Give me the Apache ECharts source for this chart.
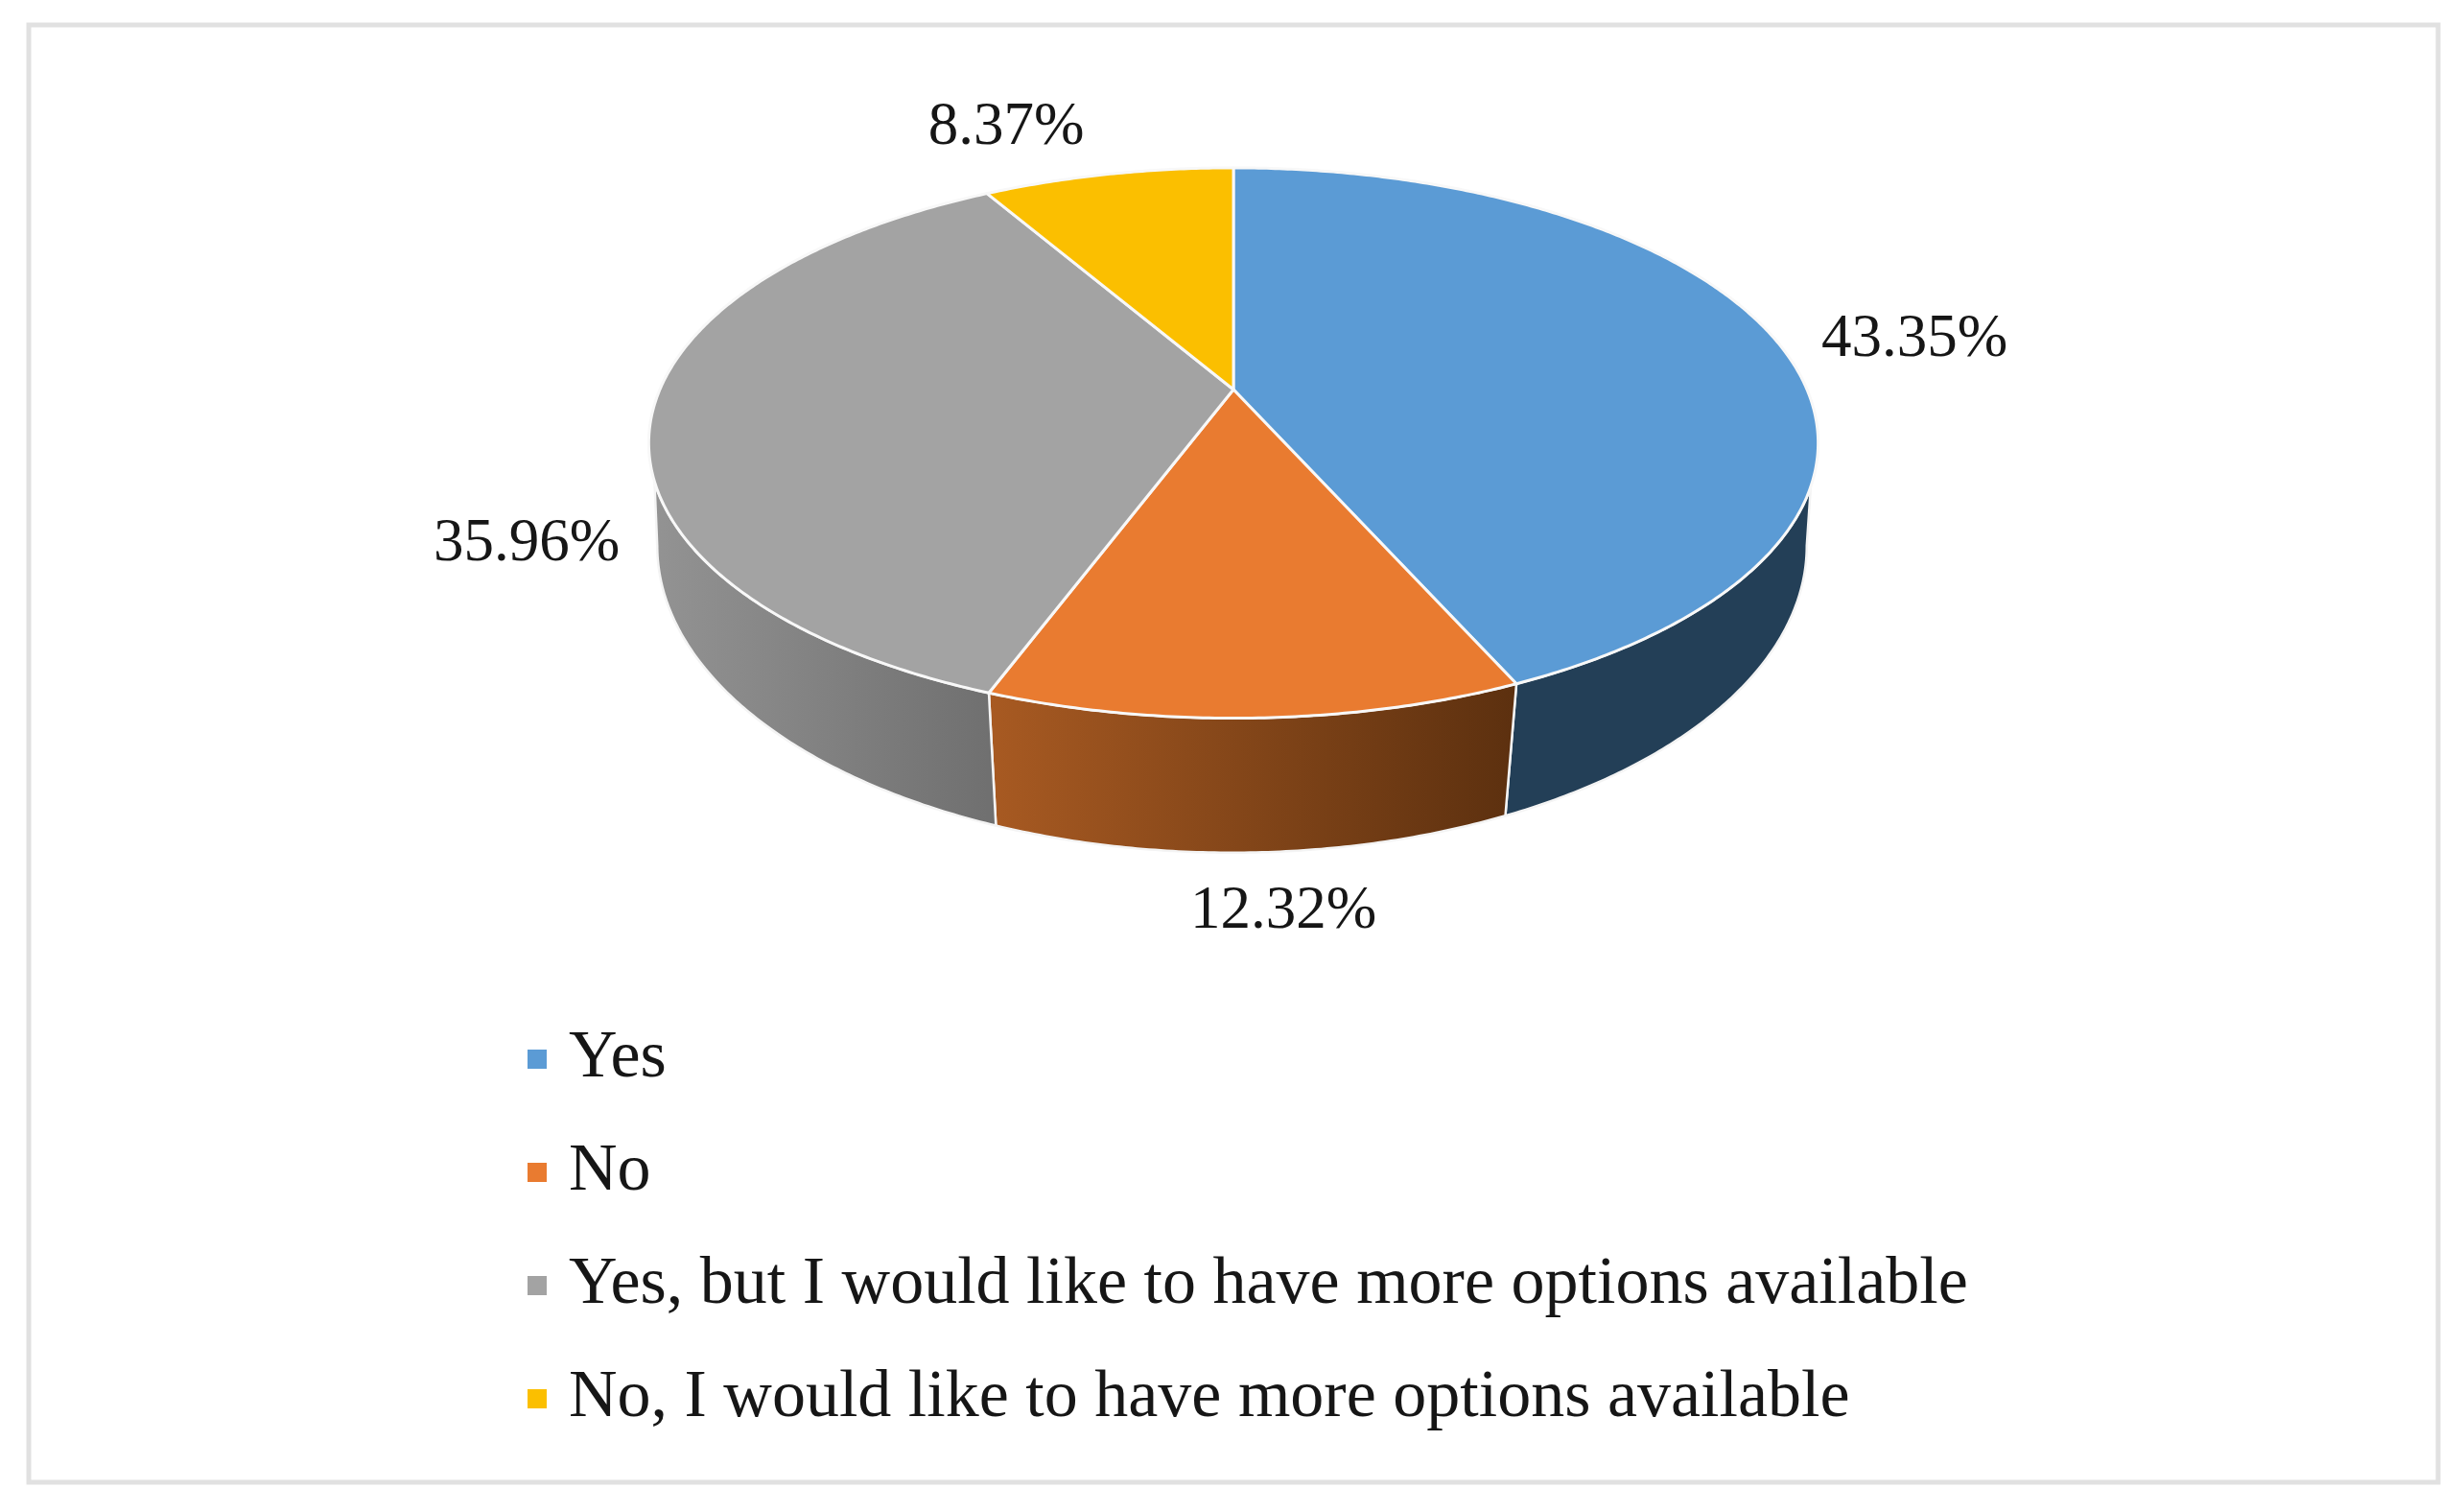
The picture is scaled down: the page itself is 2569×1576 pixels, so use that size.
<!DOCTYPE html>
<html>
<head>
<meta charset="utf-8">
<style>
  html, body { margin: 0; padding: 0; background: #fff; }
  #chart { width: 2569px; height: 1576px; }
</style>
</head>
<body>
<div id="chart"></div>
<script src="https://cdn.jsdelivr.net/npm/echarts@6/dist/echarts.min.js"></script>
<script>
const categories = ['Yes', 'No', 'Yes, but I would like to have more options available', 'No, I would like to have more options available'];
const shares = [43.35, 12.32, 35.96, 8.37];
const topColors = ['#5b9bd5', '#e97b30', '#a3a3a3', '#fbbf00'];
const wallColors = [['#233f57', '#233f57'], ['#a85a22', '#5c300f'], ['#939393', '#6f6f6f'], ['#7f6000', '#7f6000']];

// where each percentage label sits
const labelSpots = [[1996, 354], [1338, 950], [549, 567], [1049, 133]];

// the tilted disc: centre of the slices, half sizes, perspective
const topDisc = { x: 1286, y: 406, w: 598, h: 276, k: 0.1943 };
// the lower rim, fitted on its own
const rimDisc = { x: 1284.5, y: 513, w: 590, h: 310, k: 0.175 };
// angles (clockwise from 12 o'clock) where the wall shows
const wallTop = [110, 251], wallRim = [100.1, 259.9];

const chart = echarts.init(document.getElementById('chart'));

function project(deg, disc) {
  const t = deg * Math.PI / 180;
  const u = Math.sin(t), v = -Math.cos(t);
  const d = 1 - disc.k * v;
  return [disc.x + disc.w * u / d, disc.y + disc.h * v / d];
}

function arc(from, to, disc) {
  const pts = [];
  const n = Math.max(2, Math.ceil(Math.abs(to - from) * 2));
  for (let i = 0; i <= n; i++) {
    pts.push(project(from + (to - from) * i / n, disc));
  }
  return pts;
}

function sliceItem(idx) {
  return function (params, api) {
    const before = shares.slice(0, idx).reduce((a, b) => a + b, 0);
    const total = shares.reduce((a, b) => a + b, 0);
    const start = before / total * 360;
    const end = start + api.value(0) / total * 360;
    const children = [];

    const topFrom = Math.max(start, wallTop[0]), topTo = Math.min(end, wallTop[1]);
    const rimFrom = Math.max(start, wallRim[0]), rimTo = Math.min(end, wallRim[1]);
    if (topFrom < topTo) {
      children.push({
        type: 'polygon',
        z2: 1,
        shape: { points: arc(topFrom, topTo, topDisc).concat(arc(rimTo, rimFrom, rimDisc)) },
        style: {
          fill: new echarts.graphic.LinearGradient(0, 0, 1, 0, [
            { offset: 0, color: wallColors[idx][0] },
            { offset: 1, color: wallColors[idx][1] }
          ]),
          stroke: '#f4f4f4',
          lineWidth: 2.5
        }
      });
    }

    children.push({
      type: 'polygon',
      z2: 5,
      shape: { points: [[topDisc.x, topDisc.y]].concat(arc(start, end, topDisc)) },
      style: { fill: topColors[idx], stroke: '#f8f8f8', lineWidth: 3, lineJoin: 'round' }
    });

    children.push({
      type: 'text',
      z2: 9,
      style: {
        x: labelSpots[idx][0],
        y: labelSpots[idx][1],
        text: api.value(0).toFixed(2) + '%',
        fill: '#161616',
        font: '63px "Liberation Serif"',
        align: 'center',
        verticalAlign: 'middle'
      }
    });

    return { type: 'group', children: children };
  };
}

const option = {
  backgroundColor: '#fff',
  animation: false,
  color: topColors,
  legend: {
    orient: 'vertical',
    left: 545,
    top: 1064,
    data: categories,
    icon: 'path://M0,0H10V10H0Z',
    itemWidth: 56,
    itemHeight: 20,
    itemGap: 48,
    selectedMode: false,
    textStyle: {
      fontFamily: 'Liberation Serif',
      fontSize: 70,
      color: '#161616'
    }
  },
  graphic: [{
    type: 'rect',
    shape: { x: 30, y: 26, width: 2512, height: 1519 },
    style: { fill: 'none', stroke: '#e1e1e1', lineWidth: 5 }
  }],
  series: categories.map((name, idx) => ({
    type: 'custom',
    name: name,
    coordinateSystem: 'none',
    silent: true,
    itemStyle: { color: topColors[idx] },
    renderItem: sliceItem(idx),
    data: [[shares[idx]]]
  }))
};

chart.setOption(option);
</script>
</body>
</html>
